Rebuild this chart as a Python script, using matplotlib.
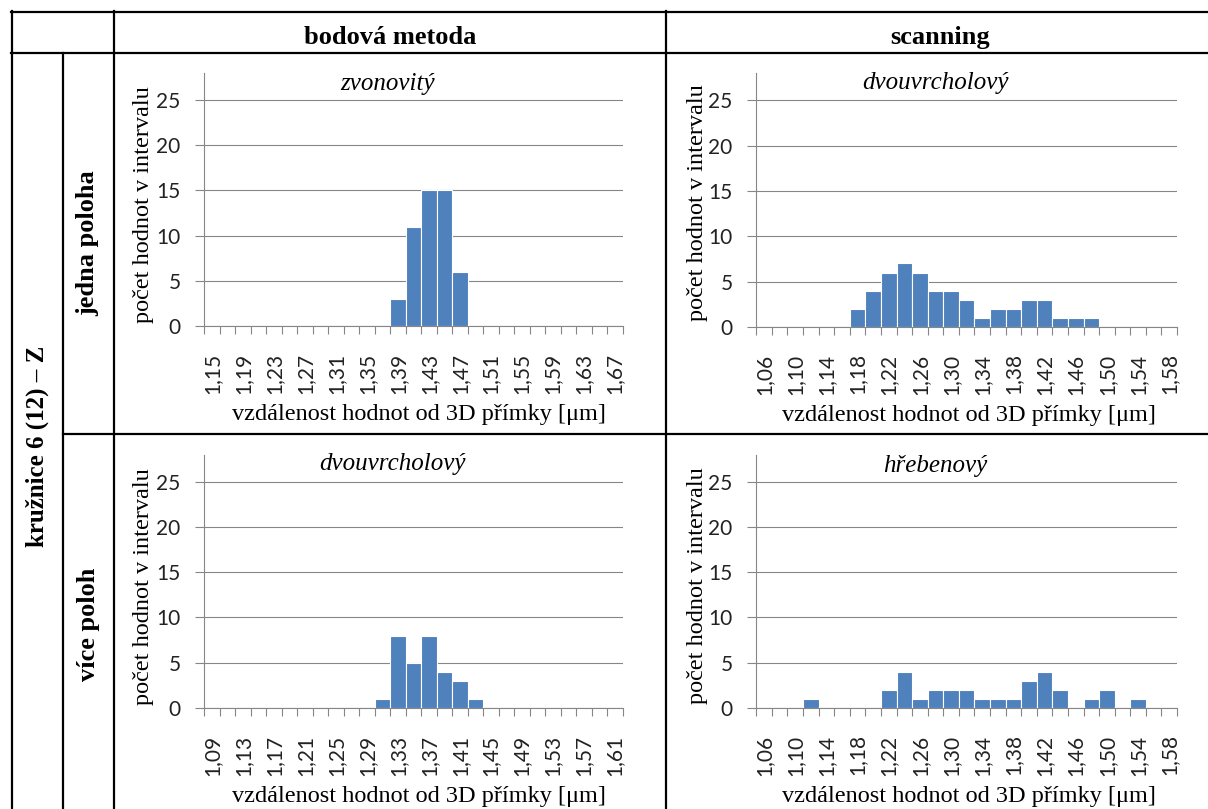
import numpy as np
import matplotlib
matplotlib.use("Agg")
import matplotlib.pyplot as plt

# ---- data -----------------------------------------------------------------
# interval centres [µm] (step 0.02)
bins_bod_jedna = [1.15, 1.17, 1.19, 1.21, 1.23, 1.25, 1.27, 1.29, 1.31, 1.33,
                  1.35, 1.37, 1.39, 1.41, 1.43, 1.45, 1.47, 1.49, 1.51, 1.53,
                  1.55, 1.57, 1.59, 1.61, 1.63, 1.65, 1.67]
bins_scan = [1.06, 1.08, 1.10, 1.12, 1.14, 1.16, 1.18, 1.20, 1.22, 1.24,
             1.26, 1.28, 1.30, 1.32, 1.34, 1.36, 1.38, 1.40, 1.42, 1.44,
             1.46, 1.48, 1.50, 1.52, 1.54, 1.56, 1.58]
bins_bod_vice = [1.09, 1.11, 1.13, 1.15, 1.17, 1.19, 1.21, 1.23, 1.25, 1.27,
                 1.29, 1.31, 1.33, 1.35, 1.37, 1.39, 1.41, 1.43, 1.45, 1.47,
                 1.49, 1.51, 1.53, 1.55, 1.57, 1.59, 1.61]

# number of values in each interval
counts_bod_jedna = [0, 0, 0, 0, 0, 0, 0, 0, 0, 0, 0, 0, 3, 11, 15, 15, 6,
                    0, 0, 0, 0, 0, 0, 0, 0, 0, 0]
counts_scan_jedna = [0, 0, 0, 0, 0, 0, 2, 4, 6, 7, 6, 4, 4, 3, 1, 2, 2, 3, 3,
                     1, 1, 1, 0, 0, 0, 0, 0]
counts_bod_vice = [0, 0, 0, 0, 0, 0, 0, 0, 0, 0, 0, 1, 8, 5, 8, 4, 3, 1,
                   0, 0, 0, 0, 0, 0, 0, 0, 0]
counts_scan_vice = [0, 0, 0, 1, 0, 0, 0, 0, 2, 4, 1, 2, 2, 2, 1, 1, 1, 3, 4,
                    2, 0, 1, 2, 0, 1, 0, 0]

shape_titles = ["zvonovitý", "dvouvrcholový", "dvouvrcholový", "hřebenový"]
column_titles = ["bodová metoda", "scanning"]
row_titles = ["jedna poloha", "více poloh"]
group_title = "kružnice 6 (12) – Z"
y_title = "počet hodnot v intervalu"
x_title = "vzdálenost hodnot od 3D přímky [μm]"
y_ticks = [0, 5, 10, 15, 20, 25]

# ---- styling ----------------------------------------------------------------
W, H, DPI = 1208, 809, 100
BAR = "#4F81BD"
GREY = "#868686"
SERIF = "Liberation Serif"
TICKFONT = "Lato"
TICKSIZE = 15

fig = plt.figure(figsize=(W / DPI, H / DPI), dpi=DPI)
fig.patch.set_facecolor("white")


def axes_px(left, top, right, bottom):
    """Add axes given in pixel coordinates measured from the top-left corner."""
    return fig.add_axes([left / W, 1 - bottom / H, (right - left) / W, (bottom - top) / H])


def fmt(v):
    return f"{v:.2f}".replace(".", ",")


def histogram(ax, bins, counts):
    x = np.arange(len(bins))
    ax.bar(x, counts, width=1.0, color=BAR, edgecolor="white", linewidth=0.8, zorder=3)
    ax.set_xlim(-0.5, len(bins) - 0.5)
    ax.set_ylim(0, 28)
    ax.set_yticks(y_ticks)
    ax.set_yticklabels([str(t) for t in y_ticks], fontfamily=TICKFONT,
                       fontsize=TICKSIZE, color="#222222")
    ax.set_xticks(x[::2])
    ax.set_xticklabels([fmt(b) for b in bins[::2]], rotation=90, fontfamily=TICKFONT,
                       fontsize=TICKSIZE, color="#222222")
    ax.set_xticks(np.arange(len(bins) + 1) - 0.5, minor=True)
    ax.tick_params(axis="x", which="major", length=0, pad=19)
    ax.tick_params(axis="x", which="minor", length=5.5, width=0.8, color=GREY, direction="out")
    ax.tick_params(axis="y", which="major", length=6.5, width=0.8, color=GREY, pad=10.5)
    ax.yaxis.grid(True, color=GREY, linewidth=0.8)
    ax.set_axisbelow(True)
    for side in ("top", "right"):
        ax.spines[side].set_visible(False)
    for side in ("left", "bottom"):
        ax.spines[side].set_color(GREY)
        ax.spines[side].set_linewidth(0.8)
    ax.patch.set_visible(False)


# four histograms: (left, top, right, bottom) in pixels
panels = [
    ((204.3, 73.0, 622.5, 326.0), bins_bod_jedna, counts_bod_jedna),
    ((756.3, 73.0, 1177.0, 327.0), bins_scan, counts_scan_jedna),
    ((204.3, 454.5, 622.5, 708.0), bins_bod_vice, counts_bod_vice),
    ((756.3, 454.5, 1177.0, 708.0), bins_scan, counts_scan_vice),
]
for rect, bins, counts in panels:
    histogram(axes_px(*rect), bins, counts)

# overlay in pixel coordinates for the table grid and all captions
frame = fig.add_axes([0, 0, 1, 1], zorder=10)
frame.set_xlim(0, W)
frame.set_ylim(H, 0)
frame.axis("off")

table_lines = [
    ((11, 1208), (11.5, 11.5)),
    ((11, 1208), (52.5, 52.5)),
    ((11.5, 11.5), (11, 809)),
    ((63, 63), (52.5, 809)),
    ((114, 114), (11, 809)),
    ((666, 666), (11, 809)),
    ((63, 1208), (434, 434)),
]
for xs, ys in table_lines:
    frame.plot(xs, ys, color="black", linewidth=1.6, solid_capstyle="projecting")

# column and row headers
head = dict(fontfamily=SERIF, fontweight="bold", color="black")
frame.text(390, 44, column_titles[0], ha="center", va="baseline", fontsize=19, **head)
frame.text(940, 44, column_titles[1], ha="center", va="baseline", fontsize=19, **head)
frame.text(37, 446, group_title, rotation=90, ha="center", va="center", fontsize=18, **head)
frame.text(88, 243, row_titles[0], rotation=90, ha="center", va="center", fontsize=19, **head)
frame.text(88, 624, row_titles[1], rotation=90, ha="center", va="center", fontsize=19, **head)

# captions of each histogram
title_pos = [(388, 90), (935, 89), (392, 470), (935, 472)]
xlab_pos = [(418.5, 420), (968.5, 421), (419, 802), (969, 802)]
ylab_pos = [(144, 205), (698, 203), (144, 587), (698, 586)]
for (tx, ty), (xx, xy), (yx, yy), title in zip(title_pos, xlab_pos, ylab_pos, shape_titles):
    frame.text(tx, ty, title, ha="center", va="baseline", fontfamily=SERIF,
               style="italic", fontsize=18, color="black")
    frame.text(xx, xy, x_title, ha="center", va="baseline", fontfamily=SERIF,
               fontsize=17.5, color="black")
    frame.text(yx, yy, y_title, rotation=90, ha="center", va="center", fontfamily=SERIF,
               fontsize=17.5, color="black")

fig.savefig("out.png", dpi=DPI, facecolor="white")
